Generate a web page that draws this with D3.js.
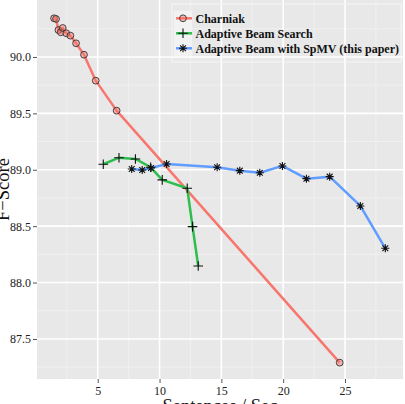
<!DOCTYPE html>
<html><head><meta charset="utf-8">
<script src="https://cdn.jsdelivr.net/npm/d3@7/dist/d3.min.js"></script>
<style>body{margin:0;background:#fff;overflow:hidden} svg text{font-family:"Liberation Serif","Times New Roman","DejaVu Serif",serif !important}</style></head>
<body><svg id="c" width="405" height="404"></svg>
<script>
const seriesNames = ["Charniak", "Adaptive Beam Search", "Adaptive Beam with SpMV (this paper)"];
const seriesColors = ["#F8766D", "#2DBE4E", "#619CFF"];
const charniakX = [1.47, 1.63, 1.82, 2.01, 2.17, 2.46, 2.79, 3.25, 3.89, 4.84, 6.53, 24.57];
const charniakY = [90.343, 90.337, 90.239, 90.219, 90.257, 90.210, 90.189, 90.121, 90.020, 89.790, 89.524, 87.290];
const beamX = [5.45, 6.72, 8.05, 9.28, 10.22, 12.24, 12.67, 13.13];
const beamY = [89.049, 89.107, 89.096, 89.022, 88.910, 88.836, 88.496, 88.147];
const spmvX = [7.75, 8.60, 9.31, 10.57, 14.66, 16.49, 18.11, 19.94, 21.88, 23.76, 26.24, 28.26];
const spmvY = [89.007, 88.998, 89.016, 89.051, 89.022, 88.992, 88.974, 89.034, 88.921, 88.939, 88.679, 88.304];
const xTicks = [5, 10, 15, 20, 25];
const xMinor = [2.5, 7.5, 12.5, 17.5, 22.5, 27.5];
const yTicks = [87.5, 88.0, 88.5, 89.0, 89.5, 90.0];
const yMinor = [87.25, 87.75, 88.25, 88.75, 89.25, 89.75, 90.25];
const xDomain = [0.09, 29.69];
const yDomain = [87.145, 90.505];
const xTitle = "Sentences / Sec";
const yTitle = "F\u2212Score";

const P = {l: 37, t: 0, r: 403, b: 379};
const svg = d3.select("#c");
const x = d3.scaleLinear().domain(xDomain).range([P.l, P.r]);
const y = d3.scaleLinear().domain(yDomain).range([P.b, P.t]);

svg.append("rect").attr("x", P.l).attr("y", P.t).attr("width", P.r - P.l).attr("height", P.b - P.t).attr("fill", "#E8E8E8");
const g = svg.append("g");
g.selectAll(".xm").data(xMinor).join("line").attr("x1", d => x(d)).attr("x2", d => x(d)).attr("y1", P.t).attr("y2", P.b).attr("stroke", "#F3F3F3").attr("stroke-width", 0.8);
g.selectAll(".ym").data(yMinor).join("line").attr("y1", d => y(d)).attr("y2", d => y(d)).attr("x1", P.l).attr("x2", P.r).attr("stroke", "#F3F3F3").attr("stroke-width", 0.8);
g.selectAll(".xM").data(xTicks).join("line").attr("x1", d => x(d)).attr("x2", d => x(d)).attr("y1", P.t).attr("y2", P.b).attr("stroke", "#fff").attr("stroke-width", 1.6);
g.selectAll(".yM").data(yTicks).join("line").attr("y1", d => y(d)).attr("y2", d => y(d)).attr("x1", P.l).attr("x2", P.r).attr("stroke", "#fff").attr("stroke-width", 1.6);

// axes
const xAxis = svg.append("g").attr("transform", `translate(0,${P.b})`)
  .call(d3.axisBottom(x).tickValues(xTicks).tickSize(4).tickPadding(3).tickFormat(d3.format("d")));
const yAxis = svg.append("g").attr("transform", `translate(${P.l},0)`)
  .call(d3.axisLeft(y).tickValues(yTicks).tickSize(4).tickPadding(2).tickFormat(d3.format(".1f")));
[xAxis, yAxis].forEach(a => {
  a.select(".domain").remove();
  a.selectAll(".tick line").attr("stroke", "#555");
  a.selectAll(".tick text").attr("font-size", 12).attr("fill", "#222");
});

// data
const series = [
  {xs: charniakX, ys: charniakY},
  {xs: beamX, ys: beamY},
  {xs: spmvX, ys: spmvY}
].map((s, i) => ({name: seriesNames[i], color: seriesColors[i], pts: s.xs.map((v, j) => [v, s.ys[j]])}));
const line = d3.line().x(d => x(d[0])).y(d => y(d[1]));
series.forEach(s => {
  const sorted = s.pts.slice().sort((a, b) => a[0] - b[0]);
  svg.append("path").attr("d", line(sorted)).attr("fill", "none").attr("stroke", s.color).attr("stroke-width", 2.5).attr("stroke-linejoin", "round");
});
function drawShape(sel, i, cx, cy) {
  if (i === 0) {
    sel.append("circle").attr("cx", cx).attr("cy", cy).attr("r", 3.4).attr("fill", "rgba(248,118,109,0.45)").attr("stroke", "#333").attr("stroke-width", 0.9);
  } else if (i === 1) {
    const h = 4.8;
    sel.append("path").attr("d", `M${cx - h},${cy}H${cx + h}M${cx},${cy - h}V${cy + h}`).attr("stroke", "#111").attr("stroke-width", 1.1);
  } else {
    const h = 4, d = 2.9;
    sel.append("path").attr("d", `M${cx - h},${cy}H${cx + h}M${cx},${cy - h}V${cy + h}M${cx - d},${cy - d}L${cx + d},${cy + d}M${cx - d},${cy + d}L${cx + d},${cy - d}`).attr("stroke", "#111").attr("stroke-width", 1.1);
  }
}
const pg = svg.append("g");
series.forEach((s, i) => s.pts.forEach(p => drawShape(pg, i, x(p[0]), y(p[1]))));

// legend
const L = {x: 172, y: 4, w: 229, h: 58};
svg.append("rect").attr("x", L.x).attr("y", L.y).attr("width", L.w).attr("height", L.h).attr("fill", "none").attr("stroke", "#F6F6F6").attr("stroke-width", 1);
const rowY = [18.3, 33.3, 48.3];
series.forEach((s, i) => {
  svg.append("rect").attr("x", L.x + 2).attr("y", rowY[i] - 7.5).attr("width", 18).attr("height", 15).attr("fill", "#F2F2F2");
  svg.append("line").attr("x1", L.x + 4).attr("x2", L.x + 20).attr("y1", rowY[i]).attr("y2", rowY[i]).attr("stroke", s.color).attr("stroke-width", 2.5);
  drawShape(svg, i, L.x + 11, rowY[i]);
  svg.append("text").attr("x", 195.5).attr("y", rowY[i]).attr("dy", "0.35em").attr("font-weight", "bold").attr("font-size", 12).attr("fill", "#111").text(s.name);
});

// titles
svg.append("text").attr("x", (P.l + P.r) / 2).attr("y", 411.5).attr("text-anchor", "middle").attr("font-size", 18.5).attr("fill", "#111").text(xTitle);
svg.append("text").attr("transform", `translate(9,${(P.t + P.b) / 2}) rotate(-90)`).attr("text-anchor", "middle").attr("font-size", 18.5).attr("fill", "#111").text(yTitle);
</script></body></html>
